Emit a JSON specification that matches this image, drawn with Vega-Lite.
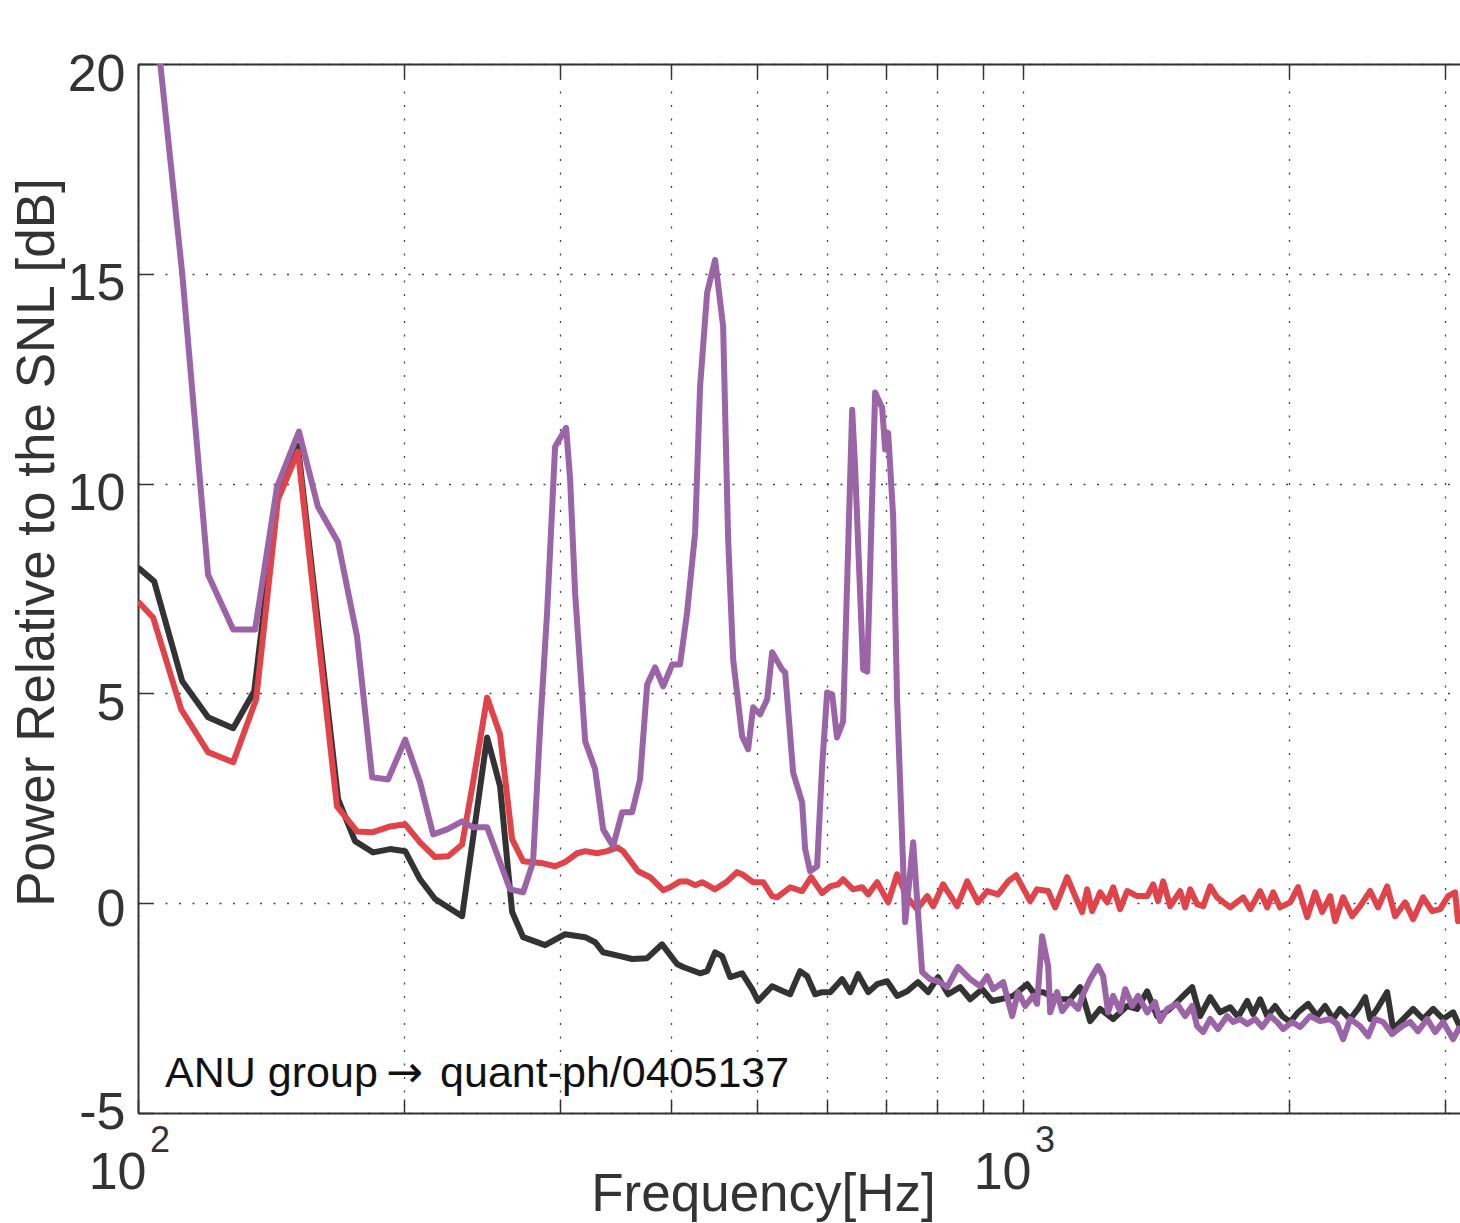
{
  "$schema": "https://vega.github.io/schema/vega-lite/v6.json",
  "width": 1322,
  "height": 1049,
  "autosize": "none",
  "padding": {"left": 138, "top": 64, "right": 0, "bottom": 110},
  "background": "white",
  "config": {
    "view": {"stroke": null},
    "font": "Liberation Sans",
    "axis": {
      "domainColor": "#333333", "domainWidth": 2,
      "tickColor": "#333333", "tickWidth": 1.5,
      "labelColor": "#333333", "titleColor": "#333333",
      "labelFont": "Liberation Sans", "titleFont": "Liberation Sans",
      "titleFontWeight": "normal",
      "gridColor": "#444444", "gridDash": [2, 11.5], "gridWidth": 1.3, "gridOpacity": 1,
      "labelOverlap": false, "labelFlush": false, "labelBound": false
    }
  },
  "datasets": {
    "black": [
      {"f":100,"v":8.0},{"f":104.3,"v":7.67},{"f":112.2,"v":5.29},{"f":120.0,"v":4.43},{"f":128.1,"v":4.17},{"f":135.3,"v":5.05},{"f":143.6,"v":9.62},{"f":151.6,"v":10.9},{"f":168.3,"v":2.48},{"f":175.9,"v":1.48},{"f":184.4,"v":1.21},{"f":192.7,"v":1.29},{"f":200.4,"v":1.24},{"f":208.3,"v":0.57},{"f":216.6,"v":0.10},{"f":232.4,"v":-0.31},{"f":248.0,"v":3.95},{"f":256.5,"v":2.79},{"f":264.7,"v":-0.21},{"f":272.4,"v":-0.81},{"f":288.4,"v":-1.0},{"f":303.8,"v":-0.74},{"f":320.1,"v":-0.81},{"f":328.5,"v":-0.93},{"f":335.4,"v":-1.17},{"f":350.5,"v":-1.26},{"f":361.7,"v":-1.33},{"f":376.1,"v":-1.31},{"f":391.0,"v":-0.98},{"f":406.5,"v":-1.45},{"f":413.0,"v":-1.52},{"f":431.6,"v":-1.67},{"f":439.6,"v":-1.62},{"f":448.8,"v":-1.17},{"f":457.1,"v":-1.26},{"f":466.7,"v":-1.76},{"f":481.5,"v":-1.67},{"f":494.2,"v":-2.05},{"f":501.9,"v":-2.33},{"f":520.6,"v":-1.98},{"f":535.7,"v":-2.1},{"f":545.6,"v":-2.17},{"f":559.9,"v":-1.62},{"f":570.3,"v":-1.74},{"f":582.2,"v":-2.17},{"f":592.9,"v":-2.12},{"f":605.5,"v":-2.12},{"f":624.6,"v":-1.81},{"f":637.8,"v":-2.12},{"f":651.0,"v":-1.69},{"f":668.4,"v":-2.12},{"f":684.1,"v":-1.93},{"f":702.3,"v":-1.86},{"f":720.6,"v":-2.21},{"f":739.8,"v":-2.1},{"f":761.0,"v":-1.88},{"f":781.3,"v":-2.12},{"f":801.6,"v":-1.76},{"f":823.1,"v":-2.17},{"f":849,"v":-2.0},{"f":871.6,"v":-2.29},{"f":899.1,"v":-2.05},{"f":922.9,"v":-2.33},{"f":942.1,"v":-2.29},{"f":974.6,"v":-2.21},{"f":1010.8,"v":-1.93},{"f":1026.6,"v":-2.12},{"f":1053.7,"v":-2.12},{"f":1092.6,"v":-2.29},{"f":1130.5,"v":-2.29},{"f":1160.1,"v":-2.0},{"f":1190.9,"v":-2.81},{"f":1222.0,"v":-2.52},{"f":1264.3,"v":-2.76},{"f":1311.3,"v":-2.45},{"f":1345.5,"v":-2.52},{"f":1381.3,"v":-2.1},{"f":1417.3,"v":-2.69},{"f":1455.1,"v":-2.57},{"f":1477.8,"v":-2.45},{"f":1516.8,"v":-2.21},{"f":1552.8,"v":-2.0},{"f":1585.2,"v":-2.69},{"f":1627.3,"v":-2.24},{"f":1669.9,"v":-2.6},{"f":1714.2,"v":-2.48},{"f":1749.7,"v":-2.71},{"f":1791.8,"v":-2.33},{"f":1819.8,"v":-2.64},{"f":1853.0,"v":-2.29},{"f":1887.5,"v":-2.69},{"f":1926.8,"v":-2.45},{"f":1962.4,"v":-2.69},{"f":2003.9,"v":-2.83},{"f":2045.4,"v":-2.6},{"f":2099.9,"v":-2.4},{"f":2149.0,"v":-2.69},{"f":2194.7,"v":-2.45},{"f":2240.7,"v":-2.76},{"f":2281.6,"v":-2.52},{"f":2342.2,"v":-2.76},{"f":2390.7,"v":-2.52},{"f":2435.4,"v":-2.24},{"f":2467.3,"v":-2.76},{"f":2512.0,"v":-2.52},{"f":2578.9,"v":-2.12},{"f":2619.3,"v":-3.0},{"f":2688.3,"v":-2.76},{"f":2759.2,"v":-2.52},{"f":2831.9,"v":-2.76},{"f":2906.6,"v":-2.52},{"f":2983.2,"v":-2.76},{"f":3061.8,"v":-2.6},{"f":3117,"v":-2.95}
    ],
    "red": [
      {"f":100,"v":7.19},{"f":104.0,"v":6.81},{"f":111.9,"v":4.62},{"f":120.0,"v":3.6},{"f":128.1,"v":3.36},{"f":136.0,"v":4.86},{"f":143.9,"v":9.62},{"f":151.6,"v":10.76},{"f":167.8,"v":2.31},{"f":176.8,"v":1.71},{"f":183.9,"v":1.69},{"f":192.7,"v":1.83},{"f":200.4,"v":1.88},{"f":208.3,"v":1.45},{"f":216.6,"v":1.1},{"f":224.1,"v":1.12},{"f":232.4,"v":1.4},{"f":239.1,"v":2.88},{"f":248.0,"v":4.9},{"f":256.5,"v":4.02},{"f":264.7,"v":1.52},{"f":272.4,"v":1.0},{"f":286.9,"v":0.95},{"f":296.0,"v":0.88},{"f":303.8,"v":0.98},{"f":313.4,"v":1.19},{"f":320.1,"v":1.24},{"f":330.1,"v":1.19},{"f":338.9,"v":1.24},{"f":347.8,"v":1.33},{"f":353.3,"v":1.24},{"f":367.3,"v":0.76},{"f":379.0,"v":0.62},{"f":392.1,"v":0.31},{"f":399.3,"v":0.38},{"f":409.7,"v":0.52},{"f":417.3,"v":0.52},{"f":426.1,"v":0.43},{"f":433.9,"v":0.5},{"f":448.8,"v":0.33},{"f":463.1,"v":0.52},{"f":475.2,"v":0.74},{"f":481.5,"v":0.69},{"f":495.5,"v":0.5},{"f":508.6,"v":0.5},{"f":520.6,"v":0.17},{"f":527.3,"v":0.14},{"f":545.6,"v":0.38},{"f":562.9,"v":0.29},{"f":576.2,"v":0.62},{"f":592.9,"v":0.24},{"f":605.5,"v":0.4},{"f":618.0,"v":0.45},{"f":626.2,"v":0.57},{"f":642.7,"v":0.33},{"f":658.0,"v":0.38},{"f":668.4,"v":0.21},{"f":684.1,"v":0.5},{"f":704.1,"v":0.02},{"f":720.6,"v":0.69},{"f":739.8,"v":0.14},{"f":759.1,"v":-0.14},{"f":779.3,"v":0.17},{"f":791.5,"v":-0.07},{"f":812.3,"v":0.45},{"f":842.4,"v":-0.07},{"f":864.8,"v":0.52},{"f":889.6,"v":0.02},{"f":911.0,"v":0.29},{"f":937.1,"v":0.21},{"f":962.1,"v":0.52},{"f":982.1,"v":0.67},{"f":1018.7,"v":0.05},{"f":1037.2,"v":0.33},{"f":1067.6,"v":0.29},{"f":1087.1,"v":-0.1},{"f":1121.7,"v":0.62},{"f":1145.1,"v":0.17},{"f":1166.2,"v":-0.21},{"f":1181.6,"v":0.33},{"f":1197.0,"v":-0.19},{"f":1222.0,"v":0.26},{"f":1244.8,"v":0.02},{"f":1264.3,"v":0.38},{"f":1287.3,"v":-0.14},{"f":1311.3,"v":0.29},{"f":1345.5,"v":0.17},{"f":1381.3,"v":0.17},{"f":1402.9,"v":0.45},{"f":1420.9,"v":0.05},{"f":1439.9,"v":0.52},{"f":1466.4,"v":-0.07},{"f":1504.8,"v":0.29},{"f":1524.8,"v":-0.1},{"f":1544.8,"v":0.33},{"f":1572.8,"v":-0.02},{"f":1597.9,"v":-0.07},{"f":1627.3,"v":0.4},{"f":1656.8,"v":0.14},{"f":1714.2,"v":-0.1},{"f":1773.1,"v":0.14},{"f":1805.8,"v":-0.14},{"f":1853.0,"v":0.29},{"f":1887.5,"v":-0.1},{"f":1917.0,"v":0.26},{"f":1952.0,"v":-0.1},{"f":2003.9,"v":0.02},{"f":2045.4,"v":0.38},{"f":2094.5,"v":-0.33},{"f":2138.0,"v":0.26},{"f":2177.4,"v":-0.21},{"f":2223.5,"v":0.17},{"f":2252.2,"v":-0.43},{"f":2299.8,"v":0.14},{"f":2354.3,"v":-0.31},{"f":2403.5,"v":-0.07},{"f":2467.3,"v":0.29},{"f":2518.4,"v":-0.1},{"f":2578.9,"v":0.4},{"f":2632.7,"v":-0.31},{"f":2702.5,"v":0.02},{"f":2759.2,"v":-0.38},{"f":2831.9,"v":0.14},{"f":2899.1,"v":-0.19},{"f":2959.6,"v":-0.14},{"f":3022.5,"v":0.17},{"f":3077.5,"v":0.26},{"f":3101.1,"v":-0.43},{"f":3117,"v":-0.2}
    ],
    "purple": [
      {"f":100,"v":24.5},{"f":104.3,"v":21.4},{"f":112.2,"v":15.0},{"f":120.0,"v":7.83},{"f":128.1,"v":6.52},{"f":135.6,"v":6.52},{"f":143.6,"v":9.93},{"f":152.0,"v":11.24},{"f":159.7,"v":9.45},{"f":168.3,"v":8.6},{"f":176.8,"v":6.36},{"f":183.9,"v":3.0},{"f":191.7,"v":2.95},{"f":200.4,"v":3.9},{"f":208.3,"v":2.88},{"f":215.5,"v":1.64},{"f":223.5,"v":1.76},{"f":232.4,"v":1.95},{"f":239.1,"v":1.81},{"f":248.0,"v":1.81},{"f":255.2,"v":1.1},{"f":263.3,"v":0.33},{"f":272.4,"v":0.26},{"f":279.5,"v":0.98},{"f":284.6,"v":4.14},{"f":289.9,"v":6.93},{"f":296.0,"v":10.88},{"f":304.6,"v":11.33},{"f":307.8,"v":10.1},{"f":311.8,"v":7.4},{"f":320.1,"v":3.86},{"f":328.5,"v":3.19},{"f":335.4,"v":1.76},{"f":344.2,"v":1.36},{"f":352.4,"v":2.17},{"f":361.7,"v":2.17},{"f":369.2,"v":2.95},{"f":376.1,"v":5.21},{"f":384.0,"v":5.62},{"f":392.1,"v":5.17},{"f":401.4,"v":5.69},{"f":409.7,"v":5.69},{"f":417.3,"v":6.93},{"f":426.1,"v":8.83},{"f":431.6,"v":12.31},{"f":439.6,"v":14.55},{"f":448.8,"v":15.33},{"f":458.3,"v":13.74},{"f":464.3,"v":8.67},{"f":470.4,"v":5.81},{"f":481.5,"v":3.98},{"f":489.1,"v":3.67},{"f":495.5,"v":4.67},{"f":504.5,"v":4.5},{"f":513.9,"v":4.86},{"f":520.6,"v":5.98},{"f":534.3,"v":5.57},{"f":538.6,"v":5.5},{"f":549.8,"v":3.12},{"f":562.9,"v":2.4},{"f":567.3,"v":1.29},{"f":574.7,"v":0.76},{"f":585.2,"v":0.88},{"f":592.9,"v":3.26},{"f":600.7,"v":5.02},{"f":608.6,"v":4.98},{"f":616.3,"v":3.95},{"f":626.2,"v":4.33},{"f":641.1,"v":11.76},{"f":646.0,"v":10.4},{"f":659.7,"v":5.57},{"f":666.7,"v":5.52},{"f":680.6,"v":12.17},{"f":693.1,"v":11.81},{"f":698.6,"v":10.81},{"f":704.1,"v":11.21},{"f":713.3,"v":9.21},{"f":720.6,"v":4.86},{"f":726.3,"v":2.88},{"f":735.9,"v":-0.45},{"f":751.4,"v":1.45},{"f":769.1,"v":-1.64},{"f":785.4,"v":-1.81},{"f":801.6,"v":-1.86},{"f":820.9,"v":-2.0},{"f":844.5,"v":-1.52},{"f":871.6,"v":-1.81},{"f":894.4,"v":-1.98},{"f":911.0,"v":-1.74},{"f":925.3,"v":-2.05},{"f":949.6,"v":-1.88},{"f":972.1,"v":-2.69},{"f":987.1,"v":-2.12},{"f":1005.5,"v":-2.45},{"f":1026.6,"v":-2.21},{"f":1037.2,"v":-2.4},{"f":1050.9,"v":-0.79},{"f":1067.6,"v":-1.5},{"f":1073.2,"v":-2.6},{"f":1092.6,"v":-2.12},{"f":1107.1,"v":-2.57},{"f":1130.5,"v":-2.33},{"f":1153.9,"v":-2.52},{"f":1169.3,"v":-2.17},{"f":1190.9,"v":-1.81},{"f":1215.5,"v":-1.5},{"f":1231.8,"v":-1.74},{"f":1247.8,"v":-2.6},{"f":1264.3,"v":-2.21},{"f":1287.3,"v":-2.57},{"f":1304.6,"v":-2.05},{"f":1328.5,"v":-2.45},{"f":1348.9,"v":-2.21},{"f":1381.3,"v":-2.6},{"f":1410.1,"v":-2.36},{"f":1428.5,"v":-2.81},{"f":1455.1,"v":-2.52},{"f":1493.0,"v":-2.4},{"f":1524.8,"v":-2.69},{"f":1552.8,"v":-2.45},{"f":1572.8,"v":-2.93},{"f":1597.9,"v":-3.07},{"f":1627.3,"v":-2.76},{"f":1661.0,"v":-3.0},{"f":1700.9,"v":-2.69},{"f":1727.5,"v":-2.83},{"f":1759.1,"v":-2.76},{"f":1791.8,"v":-2.88},{"f":1829.2,"v":-2.76},{"f":1862.9,"v":-2.95},{"f":1902.3,"v":-2.69},{"f":1936.7,"v":-2.83},{"f":1967.5,"v":-3.0},{"f":2014.8,"v":-2.83},{"f":2056.3,"v":-2.95},{"f":2110.8,"v":-2.69},{"f":2165.9,"v":-2.81},{"f":2223.5,"v":-2.76},{"f":2263.7,"v":-2.88},{"f":2299.8,"v":-3.24},{"f":2342.2,"v":-2.76},{"f":2403.5,"v":-2.93},{"f":2454.5,"v":-3.17},{"f":2499.2,"v":-2.76},{"f":2552.0,"v":-2.83},{"f":2612.6,"v":-3.12},{"f":2681.2,"v":-2.93},{"f":2737.9,"v":-2.83},{"f":2794.6,"v":-3.05},{"f":2861.8,"v":-2.76},{"f":2921.5,"v":-3.07},{"f":2983.2,"v":-2.83},{"f":3061.8,"v":-3.24},{"f":3117,"v":-2.93}
    ],
    "note": [{"f":107.3,"v":-4.38,"a":"ANU group","b":"→","c":"quant-ph/0405137"}],
    "sup": [{"f":100,"v":-5,"t":"2"},{"f":1000,"v":-5,"t":"3"}]
  },
  "resolve": {"axis": {"x": "independent"}},
  "encoding": {
    "y": {"field": "v", "type": "quantitative",
      "scale": {"domain": [-5, 20], "nice": false, "zero": false},
      "axis": {"title": "Power Relative to the SNL [dB]",
        "values": [-5, 0, 5, 10, 15, 20],
        "labelExpr": "datum.value < 0 ? '-' + abs(datum.value) : datum.label",
        "labelFontSize": 52, "labelBaseline": "alphabetic",
        "labelOffset": {"condition": [{"test": "datum.value == -5", "value": 15}, {"test": "datum.value == 0", "value": 22}], "value": 26},
        "labelPadding": 27,
        "tickSize": -14, "grid": true,
        "titleFontSize": 53, "titleAngle": -90, "titleX": -85, "titleY": 478, "titleBaseline": "alphabetic", "titleAlign": "center", "titleAnchor": null}}
  },
  "layer": [
    {
      "data": {"name": "black"},
      "mark": {"type": "line", "color": "#333333", "strokeWidth": 6, "strokeJoin": "round", "clip": true},
      "encoding": {
        "x": {"field": "f", "type": "quantitative",
          "scale": {"type": "log", "domain": [100, 3117], "nice": false},
          "axis": {"orient": "bottom", "title": "Frequency[Hz]",
            "values": [100, 200, 300, 400, 500, 600, 700, 800, 900, 1000, 2000, 3000],
            "labelExpr": "datum.value == 100 || datum.value == 1000 ? '10' : ''",
            "labelFontSize": 52, "labelAlign": "right", "labelOffset": 8, "labelBaseline": "alphabetic", "labelPadding": 89,
            "tickSize": -14, "grid": true,
            "titleFontSize": 53, "titleX": 625, "titleY": 97, "titleBaseline": "alphabetic", "titleAlign": "center", "titleAnchor": null}}
      }
    },
    {
      "data": {"name": "red"},
      "mark": {"type": "line", "color": "#E1434A", "strokeWidth": 6, "strokeJoin": "round", "clip": true},
      "encoding": {
        "x": {"field": "f", "type": "quantitative",
          "axis": {"orient": "top", "title": null, "labels": false, "grid": false,
            "values": [100, 200, 300, 400, 500, 600, 700, 800, 900, 1000, 2000, 3000],
            "tickSize": -14}}
      }
    },
    {
      "data": {"name": "purple"},
      "mark": {"type": "line", "color": "#9A64A6", "strokeWidth": 6, "strokeJoin": "round", "clip": true},
      "encoding": {
        "x": {"field": "f", "type": "quantitative", "axis": null}
      }
    },
    {
      "data": {"name": "note"},
      "mark": {"type": "text", "align": "left", "baseline": "alphabetic", "fontSize": 43, "color": "#111111", "font": "Liberation Sans"},
      "encoding": {
        "x": {"field": "f", "type": "quantitative", "axis": null},
        "text": {"field": "a"}
      }
    },
    {
      "data": {"name": "note"},
      "mark": {"type": "text", "align": "left", "baseline": "alphabetic", "fontSize": 44, "color": "#111111", "font": "DejaVu Sans", "dx": 221},
      "encoding": {
        "x": {"field": "f", "type": "quantitative", "axis": null},
        "text": {"field": "b"}
      }
    },
    {
      "data": {"name": "note"},
      "mark": {"type": "text", "align": "left", "baseline": "alphabetic", "fontSize": 43, "color": "#111111", "font": "Liberation Sans", "dx": 275},
      "encoding": {
        "x": {"field": "f", "type": "quantitative", "axis": null},
        "text": {"field": "c"}
      }
    },
    {
      "data": {"name": "sup"},
      "mark": {"type": "text", "align": "left", "baseline": "alphabetic", "fontSize": 36, "color": "#333333", "dx": 12, "dy": 39, "font": "Liberation Sans"},
      "encoding": {
        "x": {"field": "f", "type": "quantitative", "axis": null},
        "text": {"field": "t"}
      }
    }
  ]
}
